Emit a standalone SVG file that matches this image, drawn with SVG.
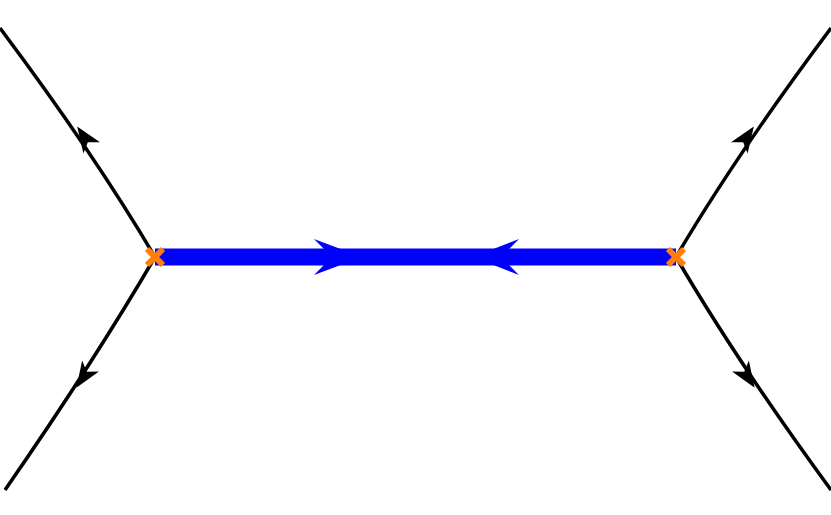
<svg xmlns="http://www.w3.org/2000/svg" width="831" height="515" viewBox="0 0 831 515">
<style>
.f{fill:none;stroke:#000;stroke-width:3.5}
.a{fill:#000}
.x{stroke:#ff7f0e;stroke-width:6;stroke-linecap:butt}
</style>
<rect width="831" height="515" fill="#fff"/>
<g id="connectors">
<path class="f" d="M155,257 Q95,155 0,28"/>
<path class="f" d="M155,257 Q95,360 5,490"/>
<path class="f" d="M676,257 Q736,155 831,28"/>
<path class="f" d="M676,257 Q736,360 831,490"/>
<polygon class="a" points="14,0 -12,-10 -5,0 -12,10" transform="translate(85,138) rotate(-124)"/>
<polygon class="a" points="14,0 -12,-10 -5,0 -12,10" transform="translate(84,376) rotate(123)"/>
<polygon class="a" points="14,0 -12,-10 -5,0 -12,10" transform="translate(746,138) rotate(-56)"/>
<polygon class="a" points="14,0 -12,-10 -5,0 -12,10" transform="translate(747,376) rotate(57)"/>
<line x1="155" y1="257" x2="676" y2="257" stroke="#0000ff" stroke-width="17"/>
<polygon fill="#0000ff" points="362,257 314,239 332,257 314,275"/>
<polygon fill="#0000ff" points="473,257 519,239 501,257 519,275"/>
</g>
<g id="v1"><path class="x" d="M147,249 L163,265 M163,249 L147,265"/></g>
<g id="v2"><path class="x" d="M668,249 L684,265 M684,249 L668,265"/></g>
</svg>
